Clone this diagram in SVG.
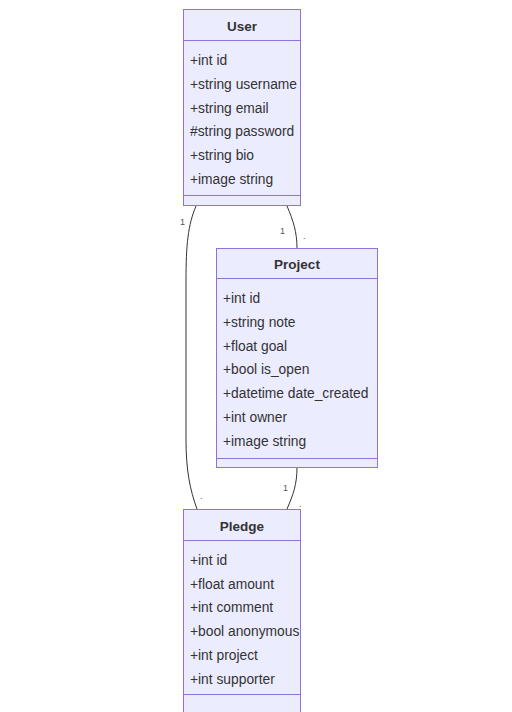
<svg xmlns="http://www.w3.org/2000/svg" width="512" height="712" viewBox="0 0 512 712">
<style>
.box{fill:#ECECFF;stroke:#9370DB;stroke-width:1}
.sep{stroke:#9370DB;stroke-width:1}
.title{font-family:"Liberation Sans",Arial,sans-serif;font-size:13.5px;font-weight:bold;fill:#333;text-anchor:middle}
.row{font-family:"Liberation Sans",Arial,sans-serif;font-size:13.8px;fill:#333}
.edge{fill:none;stroke:#333;stroke-width:1}
.lbl{font-family:"Liberation Sans",Arial,sans-serif;font-size:9px;fill:#555}
</style>
<rect width="512" height="712" fill="#fff"/>
<g id="connectors">
<path class="edge" d="M196,206 C188,225 186,245 186,280 L186,440 C186,470 190,490 197,509"/>
<path class="edge" d="M287,206 C293,220 297,232 297,248"/>
<path class="edge" d="M297,467 C297,485 293,495 287,509"/>
<text class="lbl" x="180" y="225">1</text>
<text class="lbl" x="200" y="499">.</text>
<text class="lbl" x="280" y="234">1</text>
<text class="lbl" x="303" y="239">.</text>
<text class="lbl" x="283" y="491">1</text>
<text class="lbl" x="299" y="507">.</text>
</g>
<g id="User">
<rect class="box" x="183.5" y="9.5" width="117" height="196"/>
<line class="sep" x1="183.5" y1="40.5" x2="300.5" y2="40.5"/>
<line class="sep" x1="183.5" y1="195.5" x2="300.5" y2="195.5"/>
<text class="title" x="242" y="31">User</text>
<text class="row" x="190" y="65">+int id</text>
<text class="row" x="190" y="89">+string username</text>
<text class="row" x="190" y="113">+string email</text>
<text class="row" x="190" y="136">#string password</text>
<text class="row" x="190" y="160">+string bio</text>
<text class="row" x="190" y="184">+image string</text>
</g>
<g id="Project">
<rect class="box" x="216.5" y="248.5" width="161" height="219"/>
<line class="sep" x1="216.5" y1="278.5" x2="377.5" y2="278.5"/>
<line class="sep" x1="216.5" y1="458.5" x2="377.5" y2="458.5"/>
<text class="title" x="297" y="269">Project</text>
<text class="row" x="223" y="303">+int id</text>
<text class="row" x="223" y="327">+string note</text>
<text class="row" x="223" y="351">+float goal</text>
<text class="row" x="223" y="374">+bool is_open</text>
<text class="row" x="223" y="398">+datetime date_created</text>
<text class="row" x="223" y="422">+int owner</text>
<text class="row" x="223" y="446">+image string</text>
</g>
<g id="Pledge">
<rect class="box" x="183.5" y="509.5" width="117" height="220"/>
<line class="sep" x1="183.5" y1="540.5" x2="300.5" y2="540.5"/>
<line class="sep" x1="183.5" y1="694.5" x2="300.5" y2="694.5"/>
<text class="title" x="242" y="531">Pledge</text>
<text class="row" x="190" y="565">+int id</text>
<text class="row" x="190" y="589">+float amount</text>
<text class="row" x="190" y="612">+int comment</text>
<text class="row" x="190" y="636">+bool anonymous</text>
<text class="row" x="190" y="660">+int project</text>
<text class="row" x="190" y="684">+int supporter</text>
</g>
</svg>
